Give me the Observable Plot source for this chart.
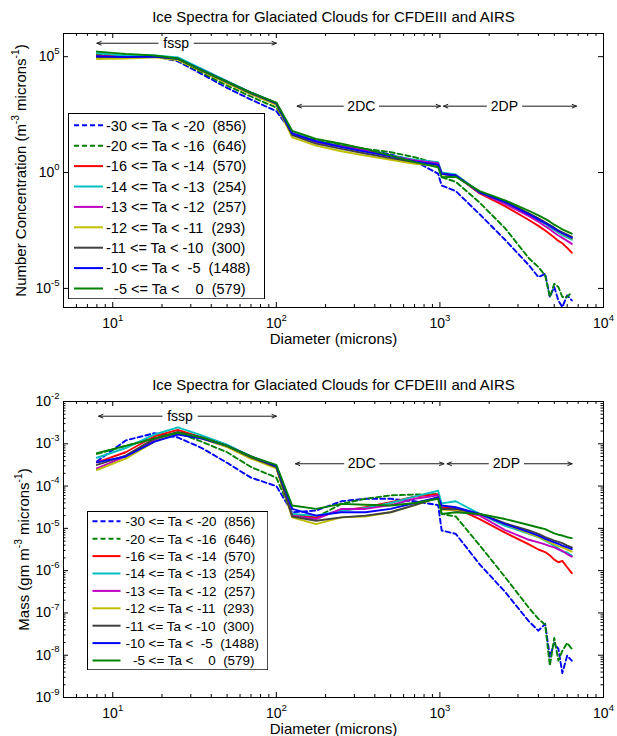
<!DOCTYPE html>
<html>
<head>
<meta charset="utf-8">
<script src="https://cdn.jsdelivr.net/npm/d3@7"></script>
<script src="https://cdn.jsdelivr.net/npm/@observablehq/plot@0.6"></script>
<style>
  html, body { margin: 0; padding: 0; background: #fff; overflow: hidden; }
  #chart { position: relative; width: 617px; height: 736px; font-family: "Liberation Sans", Arial, sans-serif; }
  #chart > svg { position: absolute; left: 0; }
</style>
</head>
<body>
<div id="chart"></div>
<script>
// ---------------- data ----------------
const diameters = [8, 12, 18, 25, 35, 50, 70, 100, 125, 175, 250, 350, 500, 700, 975, 1025, 1250, 1750, 2500, 3500, 4000, 4400, 4700, 5000, 5300, 5600, 6000, 6400];

const seriesLabels = [
  "-30 <= Ta < -20  (856)",
  "-20 <= Ta < -16  (646)",
  "-16 <= Ta < -14  (570)",
  "-14 <= Ta < -13  (254)",
  "-13 <= Ta < -12  (257)",
  "-12 <= Ta < -11  (293)",
  "-11 <= Ta < -10  (300)",
  "-10 <= Ta <  -5  (1488)",
  "  -5 <= Ta <    0  (579)"
];

// Number concentration (m^-3 microns^-1)
const nBlueDash  = [1.12e5, 1.12e5, 1.05e5, 6.3e4, 1.78e4, 4.47e3, 1.41e3, 447, 52.5, 22.4, 14.1, 9.55, 6.03, 3.16, 0.891, 0.275, 0.158, 0.0158, 1.26e-3, 1e-4, 3.09e-5, 4.27e-5, 4.27e-6, 1.15e-5, 3.02e-6, 1.58e-6, 5.01e-6, 3.02e-6];
const nGreenDash = [1.26e5, 1.12e5, 1.0e5, 7.08e4, 2.09e4, 5.62e3, 1.91e3, 631, 52.5, 24.0, 15.1, 10.5, 7.59, 4.57, 2.40, 0.631, 0.398, 0.0501, 3.98e-3, 2.0e-4, 8.32e-5, 3.63e-5, 4.27e-6, 1.58e-5, 1.15e-5, 4.27e-6, 4.27e-6, 6.92e-6];
const nRed       = [1.12e5, 1.0e5, 1.0e5, 7.94e4, 2.51e4, 7.59e3, 2.51e3, 891, 50.1, 21.4, 13.2, 8.32, 5.25, 3.31, 2.40, 0.912, 0.741, 0.126, 0.0355, 8.91e-3, 5.01e-3, 3.16e-3, 2.24e-3, 1.58e-3, 1.12e-3, 8.91e-4, 5.62e-4, 3.47e-4];
const nCyan      = [1.41e5, 1.12e5, 1.12e5, 9.33e4, 2.95e4, 8.91e3, 2.82e3, 1.0e3, 52.5, 21.4, 13.2, 8.32, 5.50, 3.55, 2.82, 1.02, 0.832, 0.141, 0.0501, 0.0151, 8.91e-3, 6.03e-3, 4.47e-3, 3.31e-3, 2.51e-3, 2.0e-3, 1.58e-3, 1.26e-3];
const nMagenta   = [1.0e5, 9.55e4, 1.0e5, 7.94e4, 2.51e4, 7.59e3, 2.51e3, 891, 50.1, 20.0, 13.2, 8.91, 5.25, 3.31, 2.51, 0.912, 0.741, 0.132, 0.0447, 0.0132, 7.59e-3, 4.79e-3, 3.55e-3, 2.51e-3, 1.91e-3, 1.51e-3, 1.12e-3, 8.32e-4];
const nYellow    = [7.94e4, 8.32e4, 9.33e4, 7.08e4, 2.40e4, 7.08e3, 2.40e3, 832, 33.1, 14.5, 8.32, 5.37, 3.55, 2.40, 2.0, 0.832, 0.708, 0.141, 0.0525, 0.0166, 0.01, 6.61e-3, 5.01e-3, 3.80e-3, 2.88e-3, 2.29e-3, 1.78e-3, 1.41e-3];
const nGray      = [9.55e4, 9.55e4, 1.0e5, 7.94e4, 2.51e4, 7.94e3, 2.63e3, 933, 41.7, 17.8, 10.5, 6.61, 4.17, 2.82, 2.14, 0.871, 0.741, 0.141, 0.055, 0.0174, 0.0105, 7.08e-3, 5.37e-3, 4.17e-3, 3.16e-3, 2.63e-3, 2.09e-3, 1.66e-3];
const nBlue      = [1.05e5, 9.55e4, 1.0e5, 8.32e4, 2.69e4, 8.32e3, 2.82e3, 1.0e3, 47.9, 22.4, 12.6, 7.94, 5.01, 3.02, 2.19, 0.871, 0.741, 0.141, 0.0525, 0.0158, 9.55e-3, 6.61e-3, 5.01e-3, 3.80e-3, 2.95e-3, 2.40e-3, 1.91e-3, 1.51e-3];
const nGreen     = [1.66e5, 1.32e5, 1.12e5, 8.32e4, 2.63e4, 8.32e3, 2.82e3, 1.05e3, 63.1, 28.2, 17.4, 10.5, 5.37, 2.82, 1.70, 0.631, 0.661, 0.158, 0.0631, 0.0224, 0.0141, 0.01, 7.59e-3, 5.62e-3, 4.47e-3, 3.55e-3, 2.82e-3, 2.29e-3];

// Mass (gm m^-3 microns^-1)
const mBlueDash  = [3.80e-4, 1.20e-3, 1.78e-3, 1.41e-3, 7.94e-4, 3.55e-4, 1.58e-4, 1.0e-4, 2.40e-5, 2.63e-5, 4.37e-5, 5.01e-5, 5.01e-5, 4.37e-5, 3.55e-5, 8.91e-6, 7.41e-6, 1.41e-6, 3.16e-7, 6.31e-8, 3.80e-8, 5.50e-8, 9.12e-9, 1.95e-8, 1.41e-8, 3.80e-9, 9.77e-9, 7.41e-9];
const mGreenDash = [5.75e-4, 8.91e-4, 1.41e-3, 1.82e-3, 1.12e-3, 6.31e-4, 2.82e-4, 1.58e-4, 2.19e-5, 1.82e-5, 3.80e-5, 5.01e-5, 6.03e-5, 6.31e-5, 6.46e-5, 2.19e-5, 1.91e-5, 3.98e-6, 7.08e-7, 1.32e-7, 7.24e-8, 5.25e-8, 5.62e-9, 2.57e-8, 7.41e-9, 1.26e-8, 1.95e-8, 1.41e-8];
const mRed       = [3.63e-4, 6.31e-4, 1.51e-3, 2.14e-3, 1.41e-3, 8.91e-4, 5.01e-4, 2.82e-4, 2.0e-5, 1.82e-5, 2.63e-5, 3.16e-5, 4.17e-5, 5.62e-5, 6.46e-5, 3.16e-5, 3.02e-5, 1.66e-5, 7.94e-6, 4.17e-6, 3.16e-6, 2.75e-6, 2.29e-6, 1.82e-6, 1.58e-6, 1.70e-6, 1.20e-6, 8.71e-7];
const mCyan      = [4.68e-4, 7.94e-4, 1.66e-3, 2.45e-3, 1.58e-3, 9.55e-4, 5.01e-4, 2.82e-4, 2.19e-5, 2.0e-5, 2.63e-5, 3.02e-5, 3.98e-5, 5.62e-5, 7.76e-5, 3.89e-5, 4.37e-5, 2.19e-5, 1.15e-5, 7.41e-6, 6.17e-6, 5.13e-6, 4.47e-6, 3.89e-6, 3.39e-6, 2.82e-6, 2.69e-6, 2.24e-6];
const mMagenta   = [2.63e-4, 5.01e-4, 1.20e-3, 1.86e-3, 1.41e-3, 8.91e-4, 4.79e-4, 2.75e-4, 2.0e-5, 1.66e-5, 2.88e-5, 2.88e-5, 3.55e-5, 5.01e-5, 6.03e-5, 2.88e-5, 2.63e-5, 2.0e-5, 9.12e-6, 5.37e-6, 4.68e-6, 4.17e-6, 3.80e-6, 3.55e-6, 3.16e-6, 2.95e-6, 2.45e-6, 2.14e-6];
const mYellow    = [2.40e-4, 4.47e-4, 1.12e-3, 1.78e-3, 1.32e-3, 8.32e-4, 4.47e-4, 2.63e-4, 1.82e-5, 1.26e-5, 1.82e-5, 1.91e-5, 2.40e-5, 3.55e-5, 5.37e-5, 2.75e-5, 2.75e-5, 2.19e-5, 1.26e-5, 7.59e-6, 6.31e-6, 5.25e-6, 4.68e-6, 4.17e-6, 3.80e-6, 3.55e-6, 3.16e-6, 2.82e-6];
const mGray      = [3.16e-4, 5.25e-4, 1.32e-3, 1.91e-3, 1.41e-3, 8.91e-4, 4.79e-4, 2.82e-4, 1.91e-5, 1.51e-5, 1.82e-5, 2.0e-5, 2.40e-5, 3.55e-5, 5.37e-5, 2.88e-5, 2.88e-5, 2.19e-5, 1.32e-5, 8.91e-6, 7.41e-6, 6.17e-6, 5.62e-6, 5.13e-6, 4.79e-6, 4.47e-6, 3.89e-6, 3.55e-6];
const mBlue      = [3.63e-4, 5.01e-4, 1.12e-3, 1.66e-3, 1.32e-3, 8.91e-4, 5.01e-4, 3.02e-4, 2.88e-5, 2.0e-5, 2.40e-5, 2.40e-5, 2.88e-5, 3.98e-5, 5.37e-5, 3.47e-5, 3.16e-5, 2.19e-5, 1.26e-5, 8.13e-6, 6.76e-6, 5.62e-6, 5.13e-6, 4.68e-6, 4.27e-6, 3.89e-6, 3.55e-6, 3.24e-6];
const mGreen     = [6.03e-4, 8.91e-4, 1.32e-3, 1.82e-3, 1.41e-3, 8.91e-4, 5.01e-4, 3.16e-4, 3.47e-5, 2.88e-5, 3.80e-5, 3.63e-5, 3.47e-5, 3.98e-5, 5.01e-5, 2.19e-5, 2.40e-5, 2.19e-5, 1.66e-5, 1.20e-5, 1.05e-5, 9.55e-6, 8.51e-6, 7.59e-6, 7.08e-6, 6.76e-6, 6.17e-6, 5.89e-6];

// Axis ticks and labels
const xMajor = [10, 100, 1000, 10000];
const xMajorLabels = ["10^{1}", "10^{2}", "10^{3}", "10^{4}"];
const yMajorTop = [1e-5, 1, 1e5];
const yMajorTopLabels = ["10^{-5}", "10^{0}", "10^{5}"];
const yMajorBottom = [1e-9, 1e-8, 1e-7, 1e-6, 1e-5, 1e-4, 1e-3, 1e-2];
const yMajorBottomLabels = ["10^{-9}", "10^{-8}", "10^{-7}", "10^{-6}", "10^{-5}", "10^{-4}", "10^{-3}", "10^{-2}"];

// Instrument range annotations (diameter in microns)
const annotTopLabels = ["fssp", "2DC", "2DP"];
const annotTopCenter = [24.4, 331, 2480];
const annotTopLeft   = [8, 134, 1052];
const annotTopRight  = [100, 1008, 6840];
const annotTopY      = [3.8e5, 731, 731];
const annotBotLabels = ["fssp", "2DC", "2DP"];
const annotBotCenter = [25.8, 333, 2550];
const annotBotLeft   = [8.2, 131, 1107];
const annotBotRight  = [100, 1057, 6430];
const annotBotY      = [4.49e-3, 3.37e-4, 3.37e-4];

const titleText = "Ice Spectra for Glaciated Clouds for CFDEIII and AIRS";
const xLabelText = "Diameter (microns)";
const yLabelTop = "Number Concentration (m^{-3} microns^{-1})";
const yLabelBottom = "Mass (gm m^{-3} microns^{-1})";

// ---------------- styles ----------------
const FONT = '"Liberation Sans", Arial, Helvetica, sans-serif';
const colors = ["#0000ff", "#008000", "#ff0000", "#00bfbf", "#bf00bf", "#bfbf00", "#404040", "#0000ff", "#008000"];
const dashed = [true, true, false, false, false, false, false, false, false];

const xMinor = [1, 10, 100, 1000].flatMap(p => [2, 3, 4, 5, 6, 7, 8, 9].map(k => k * p)).filter(v => v >= 5 && v < 1e4);
const yMinorBottom = yMajorBottom.slice(0, -1).flatMap(p => [2, 3, 4, 5, 6, 7, 8, 9].map(k => k * p));

const W = 617, ML = 63, MR = 14, MT = 33;

function buildPanel({series, yDomain, yMajor, yMajorLabels, yMinor, yLabel, yLabelDx, height, marginBottom, annot}) {
  const frameH = height - MT - marginBottom;
  const frameW = W - ML - MR;
  const marks = [];
  marks.push(Plot.ruleX(xMajor, {insetTop: frameH - 5, stroke: "#000"}));
  marks.push(Plot.ruleX(xMajor, {insetBottom: frameH - 5, stroke: "#000"}));
  marks.push(Plot.ruleX(xMinor, {insetTop: frameH - 3, stroke: "#000"}));
  marks.push(Plot.ruleX(xMinor, {insetBottom: frameH - 3, stroke: "#000"}));
  marks.push(Plot.ruleY(yMajor, {insetRight: frameW - 5, stroke: "#000"}));
  marks.push(Plot.ruleY(yMajor, {insetLeft: frameW - 5, stroke: "#000"}));
  if (yMinor.length) {
    marks.push(Plot.ruleY(yMinor, {insetRight: frameW - 2.5, stroke: "#000"}));
    marks.push(Plot.ruleY(yMinor, {insetLeft: frameW - 2.5, stroke: "#000"}));
  }
  const ann = annot.labels.map((label, i) => ({label, xc: annot.center[i], xl: annot.left[i], xr: annot.right[i], y: annot.y[i]}));
  const arrowOpts = {stroke: "#1a1a1a", strokeWidth: 1, headLength: 7, headAngle: 45, insetStart: 18};
  marks.push(Plot.arrow(ann, {x1: "xc", y1: "y", x2: "xl", y2: "y", ...arrowOpts}));
  marks.push(Plot.arrow(ann, {x1: "xc", y1: "y", x2: "xr", y2: "y", ...arrowOpts}));
  marks.push(Plot.text(ann, {x: "xc", y: "y", text: "label", fontSize: 14, fill: "#000", lineAnchor: "middle"}));
  series.forEach((vals, i) => {
    const rows = diameters.map((d, j) => ({d, v: vals[j]}));
    marks.push(Plot.line(rows, {
      x: "d", y: "v", stroke: colors[i], strokeWidth: 1.9,
      strokeDasharray: dashed[i] ? "5,3" : null
    }));
  });
  marks.push(Plot.frame({stroke: "#000", strokeWidth: 1}));
  marks.push(Plot.axisX({ticks: xMajor, tickSize: 0, tickPadding: 11, label: null, fontSize: 14,
    tickFormat: d => xMajorLabels[xMajor.indexOf(d)]}));
  marks.push(Plot.axisY({ticks: yMajor, tickSize: 0, tickPadding: 4, label: null, fontSize: 14,
    tickFormat: d => yMajorLabels[yMajor.indexOf(d)]}));
  marks.push(Plot.text([titleText], {text: d => d, frameAnchor: "top", dy: -12, lineAnchor: "bottom", textAnchor: "middle", fontSize: 15}));
  marks.push(Plot.text([xLabelText], {text: d => d, frameAnchor: "bottom", dy: 26, lineAnchor: "top", textAnchor: "middle", fontSize: 15}));
  marks.push(Plot.text([yLabel], {text: d => d, frameAnchor: "left", dx: yLabelDx, rotate: -90, lineAnchor: "middle", textAnchor: "middle", fontSize: 15}));

  return Plot.plot({
    width: W, height,
    marginTop: MT, marginLeft: ML, marginRight: MR, marginBottom,
    x: {type: "log", domain: [5, 1e4]},
    y: {type: "log", domain: yDomain},
    style: {fontFamily: FONT, fontSize: "14px", background: "transparent", overflow: "visible", color: "#000"},
    marks
  });
}

function applySuperscripts(root) {
  root.querySelectorAll("text").forEach(t => {
    if (t.querySelector("tspan")) return;
    const s = t.textContent;
    if (!s.includes("^{")) return;
    const fs = parseFloat(getComputedStyle(t).fontSize) || 14;
    const parts = s.split(/(\^\{[^}]*\})/).filter(p => p.length);
    t.textContent = "";
    let raised = false;
    parts.forEach(p => {
      const ts = document.createElementNS("http://www.w3.org/2000/svg", "tspan");
      if (p.startsWith("^{")) {
        ts.textContent = p.slice(2, -1);
        ts.setAttribute("font-size", (fs * 0.68).toFixed(2));
        ts.setAttribute("dy", (-fs * 0.52).toFixed(2));
        raised = true;
      } else {
        ts.textContent = p;
        if (raised) ts.setAttribute("dy", (fs * 0.52).toFixed(2));
        raised = false;
      }
      t.appendChild(ts);
    });
  });
}

function buildLegend(container, box) {
  const svg = d3.select(container).append("svg")
    .attr("width", box.w).attr("height", box.h)
    .style("position", "absolute").style("left", box.left + "px").style("top", box.top + "px")
    .style("font-family", FONT);
  svg.append("rect").attr("x", 0.5).attr("y", 0.5).attr("width", box.w - 1).attr("height", box.h - 1)
    .attr("fill", "#fff").attr("stroke", "#000").attr("stroke-width", 1);
  seriesLabels.forEach((lab, i) => {
    const cy = box.row0 + i * box.step;
    svg.append("line").attr("x1", box.sx1).attr("x2", box.sx2).attr("y1", cy).attr("y2", cy)
      .attr("stroke", colors[i]).attr("stroke-width", 2)
      .attr("stroke-dasharray", dashed[i] ? "5,3" : null);
    svg.append("text").attr("x", box.tx).attr("y", cy).attr("dy", "0.36em")
      .style("font-size", box.fs + "px").style("white-space", "pre").attr("fill", "#000").text(lab);
  });
}

const chartEl = document.getElementById("chart");

const topPanel = buildPanel({
  series: [nBlueDash, nGreenDash, nRed, nCyan, nMagenta, nYellow, nGray, nBlue, nGreen],
  yDomain: [1.5e-6, 1e6], yMajor: yMajorTop, yMajorLabels: yMajorTopLabels, yMinor: [],
  yLabel: yLabelTop, yLabelDx: -42, height: 368, marginBottom: 61,
  annot: {labels: annotTopLabels, center: annotTopCenter, left: annotTopLeft, right: annotTopRight, y: annotTopY}
});
topPanel.style.top = "0px";
chartEl.appendChild(topPanel);

const bottomPanel = buildPanel({
  series: [mBlueDash, mGreenDash, mRed, mCyan, mMagenta, mYellow, mGray, mBlue, mGreen],
  yDomain: [1e-9, 1e-2], yMajor: yMajorBottom, yMajorLabels: yMajorBottomLabels, yMinor: yMinorBottom,
  yLabel: yLabelBottom, yLabelDx: -39, height: 368, marginBottom: 39,
  annot: {labels: annotBotLabels, center: annotBotCenter, left: annotBotLeft, right: annotBotRight, y: annotBotY}
});
bottomPanel.style.top = "368px";
chartEl.appendChild(bottomPanel);

applySuperscripts(topPanel);
applySuperscripts(bottomPanel);

buildLegend(chartEl, {left: 68, top: 112.7, w: 197, h: 186.3, row0: 12.3, step: 20.4, sx1: 6, sx2: 35, tx: 38, fs: 14.5});
buildLegend(chartEl, {left: 87, top: 510.7, w: 181.3, h: 159.3, row0: 10.3, step: 17.4, sx1: 5.5, sx2: 33.5, tx: 38.5, fs: 13.4});
</script>
</body>
</html>
